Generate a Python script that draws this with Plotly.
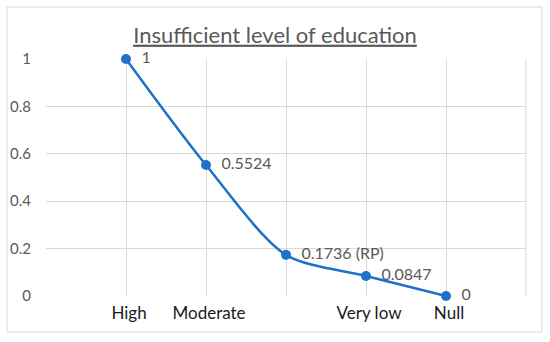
import plotly.graph_objects as go

positions = [1, 2, 3, 4, 5]
values = [1, 0.5524, 0.1736, 0.0847, 0]
point_labels = ["1", "0.5524", "0.1736 (RP)", "0.0847", "0"]
tick_positions = [0, 1, 2, 3, 4, 5, 6]
tick_labels = ["", "High", "Moderate", "", "Very low", "Null", ""]
y_ticks = [0, 0.2, 0.4, 0.6, 0.8, 1]
y_tick_labels = ["0", "0.2", "0.4", "0.6", "0.8", "1"]

fig = go.Figure()
fig.add_trace(go.Scatter(
    x=positions, y=values, mode="lines+markers+text",
    line=dict(color="#1E70C8", width=2.5, shape="spline", smoothing=0.8),
    marker=dict(color="#1E70C8", size=10),
    text=point_labels, textposition="middle right", texttemplate="  %{text}",
    textfont=dict(family="Lato", size=16, color="#595959"),
    cliponaxis=False, showlegend=False,
))

fig.update_layout(
    width=550, height=342,
    margin=dict(l=46, r=24, t=59, b=46, autoexpand=False),
    paper_bgcolor="white", plot_bgcolor="white",
    title=dict(text="Insufficient level of education", x=0.5, xanchor="center",
               y=1 - 35 / 342, yanchor="middle", automargin=False,
               font=dict(family="Lato", size=22, color="#595959", lineposition="under")),
    xaxis=dict(range=[0, 6], tickmode="array", tickvals=tick_positions, ticktext=tick_labels,
               showgrid=True, gridcolor="#D9D9D9", gridwidth=1, zeroline=False, automargin=False,
               showline=False, ticks="", ticklabelshift=3, ticklabelstandoff=5,
               tickfont=dict(family="Lato", size=17, color="#1a1a1a")),
    yaxis=dict(range=[0, 1], tickmode="array", tickvals=y_ticks, ticktext=y_tick_labels,
               showgrid=True, gridcolor="#D9D9D9", gridwidth=1, zeroline=False, automargin=False,
               showline=False, ticks="", ticklabelstandoff=14,
               tickfont=dict(family="Lato", size=15, color="#595959")),
    shapes=[dict(type="rect", xref="paper", yref="paper",
                 x0=(7 - 46) / 480, x1=(542 - 46) / 480,
                 y0=(296 - 332) / 237, y1=(296 - 7) / 237,
                 line=dict(color="#D9D9D9", width=1), layer="below")],
)
fig.add_shape(type="line", xref="paper", yref="paper", x0=1, x1=1, y0=0, y1=1,
              line=dict(color="#D9D9D9", width=1))

fig.write_html("out.html", post_script="document.body.style.margin='0';",
               config={"displayModeBar": False})
